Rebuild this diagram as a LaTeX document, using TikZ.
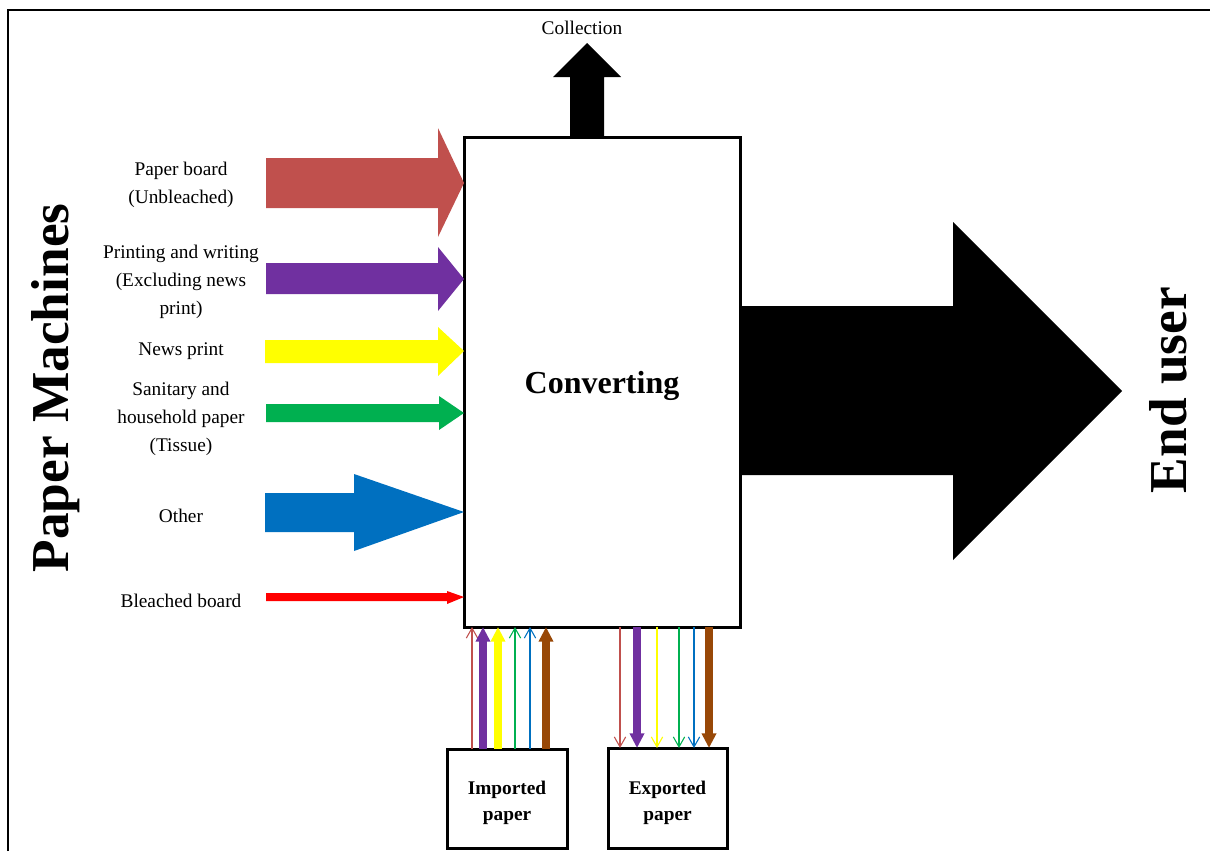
\documentclass[tikz,border=0pt]{standalone}
\usepackage{fontspec}
\setmainfont{Liberation Serif}
\usetikzlibrary{arrows.meta}

\definecolor{cboard}{HTML}{C0504D}
\definecolor{cprint}{HTML}{7030A0}
\definecolor{cnews}{HTML}{FFFF00}
\definecolor{ctissue}{HTML}{00B050}
\definecolor{cother}{HTML}{0070C0}
\definecolor{cbleach}{HTML}{FF0000}
\definecolor{cbrown}{HTML}{984807}

\tikzset{
  box/.style={draw, line width=2.25pt, inner sep=0pt, outer sep=0pt},
  lbl/.style={align=center, inner sep=0pt, font=\fontsize{14.5}{21}\selectfont},
  boxlbl/.style={align=center, inner sep=0pt, font=\fontsize{14.5}{19}\selectfont\bfseries},
  thick flow/.style={line width=5.4pt, -{Triangle[length=11pt,width=10.5pt]}},
  thin flow/.style={line width=0.8pt, -{Straight Barb[length=7.5pt,width=8.5pt]}},
}

\begin{document}
\begin{tikzpicture}[x=0.75pt,y=-0.75pt]
\useasboundingbox (0,0) rectangle (1210,851);

% outer frame (top and left sides)
\draw[line width=1.5pt] (8,851) -- (8,10) -- (1210,10);

% main converting block
\node[box, minimum width=207pt, minimum height=367.5pt] (conv) at (602,382) {};
\node[font=\fontsize{24}{28}\selectfont\bfseries, inner sep=0pt] (convl) at (602,386) {Converting};

% import / export boxes
\node[box, minimum width=90pt, minimum height=74.25pt] (imp) at (507,798.5) {};
\node[boxlbl] (impl) at (507,803) {Imported\\paper};
\node[box, minimum width=89.25pt, minimum height=75pt] (exp) at (667.5,798) {};
\node[boxlbl] (expl) at (667.5,803) {Exported\\paper};

% collection arrow
\fill[black] (570,137) -- (570,77) -- (553,77) -- (587,43) -- (621,77) -- (604,77) -- (604,137) -- cycle;
\node[lbl] (coll) at (582,28) {Collection};

% arrow to end user
\fill[black] (740,306) -- (953,306) -- (953,222) -- (1122,391) -- (953,560) -- (953,475) -- (740,475) -- cycle;
\node[rotate=90, font=\fontsize{40}{48}\selectfont\bfseries] (user) at (1168,390) {End user};

% side title
\node[rotate=90, font=\fontsize{40}{48}\selectfont\bfseries] (pm) at (56,388) {Paper Machines};

% paper machine inputs
\fill[cboard]  (266,158) -- (438,158) -- (438,128) -- (464,183) -- (438,237) -- (438,208) -- (266,208) -- cycle;
\fill[cprint]  (266,263) -- (438,263) -- (438,247) -- (464,279) -- (438,311) -- (438,294) -- (266,294) -- cycle;
\fill[cnews]   (265,340) -- (438,340) -- (438,327) -- (464,351) -- (438,376) -- (438,363) -- (265,363) -- cycle;
\fill[ctissue] (266,404) -- (439,404) -- (439,396) -- (464,413) -- (439,430) -- (439,422) -- (266,422) -- cycle;
\fill[cother]  (265,493) -- (354,493) -- (354,474) -- (464,512) -- (354,551) -- (354,532) -- (265,532) -- cycle;
\fill[cbleach] (266,593) -- (447,593) -- (447,591) -- (464,597) -- (447,604) -- (447,601) -- (266,601) -- cycle;

\node[lbl] (l1) at (181,185) {Paper board\\(Unbleached)};
\node[lbl] (l2) at (181,282) {Printing and writing\\(Excluding news\\print)};
\node[lbl] (l3) at (181,351) {News print};
\node[lbl] (l4) at (181,419) {Sanitary and\\household paper\\(Tissue)};
\node[lbl] (l5) at (181,516) {Other};
\node[lbl] (l6) at (181,601) {Bleached board};

% imported flows
\draw[thin flow, cboard]  (imp.north -| 472,0) -- (conv.south -| 472,0);
\draw[thick flow, cprint] (imp.north -| 483,0) -- (conv.south -| 483,0);
\draw[thick flow, cnews]  (imp.north -| 498,0) -- (conv.south -| 498,0);
\draw[thin flow, ctissue] (imp.north -| 515,0) -- (conv.south -| 515,0);
\draw[thin flow, cother]  (imp.north -| 530,0) -- (conv.south -| 530,0);
\draw[thick flow, cbrown] (imp.north -| 546,0) -- (conv.south -| 546,0);

% exported flows
\draw[thin flow, cboard]  (conv.south -| 620,0) -- (exp.north -| 620,0);
\draw[thick flow, cprint] (conv.south -| 637,0) -- (exp.north -| 637,0);
\draw[thin flow, cnews]   (conv.south -| 657,0) -- (exp.north -| 657,0);
\draw[thin flow, ctissue] (conv.south -| 679,0) -- (exp.north -| 679,0);
\draw[thin flow, cother]  (conv.south -| 694,0) -- (exp.north -| 694,0);
\draw[thick flow, cbrown] (conv.south -| 709,0) -- (exp.north -| 709,0);
\end{tikzpicture}
\end{document}
